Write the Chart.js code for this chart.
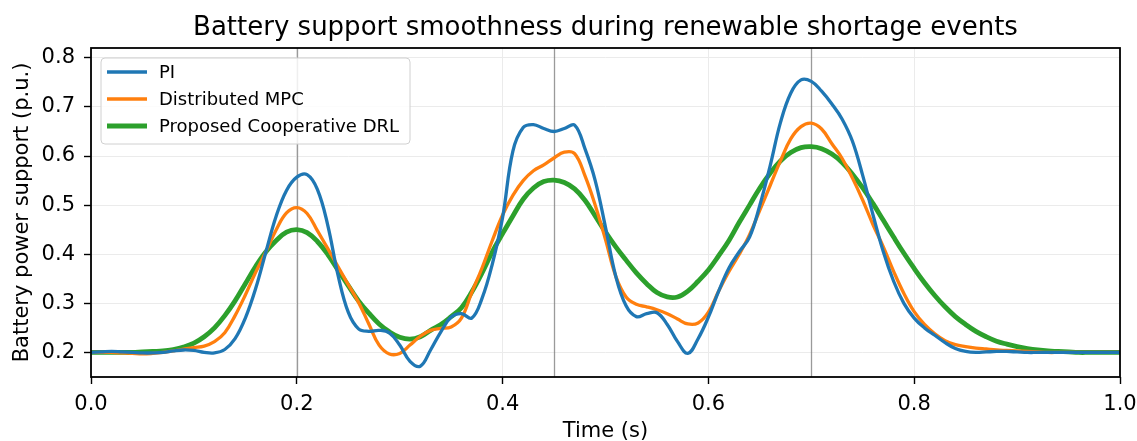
<!DOCTYPE html>
<html lang="en">
<head>
<meta charset="UTF-8">
<title>Battery support smoothness</title>
<script src="https://cdn.jsdelivr.net/npm/chart.js"></script>
<style>
  html, body { margin: 0; padding: 0; background: #fff; }
  #wrap { width: 1137px; height: 441px; position: relative; }
</style>
</head>
<body>
<div id="wrap"><canvas id="chart"></canvas></div>
<script>
// time axis (s)
const timeSec = [
  0.00, 0.01, 0.02, 0.03, 0.04, 0.05, 0.06, 0.07, 0.08, 0.09,
  0.10, 0.11, 0.12, 0.13, 0.14, 0.15, 0.16, 0.17, 0.18, 0.19,
  0.20, 0.21, 0.22, 0.23, 0.24, 0.25, 0.26, 0.27, 0.28, 0.29,
  0.30, 0.31, 0.32, 0.33, 0.34, 0.35, 0.36, 0.37, 0.38, 0.39,
  0.40, 0.41, 0.42, 0.43, 0.44, 0.45, 0.46, 0.47, 0.48, 0.49,
  0.50, 0.51, 0.52, 0.53, 0.54, 0.55, 0.56, 0.57, 0.58, 0.59,
  0.60, 0.61, 0.62, 0.63, 0.64, 0.65, 0.66, 0.67, 0.68, 0.69,
  0.70, 0.71, 0.72, 0.73, 0.74, 0.75, 0.76, 0.77, 0.78, 0.79,
  0.80, 0.81, 0.82, 0.83, 0.84, 0.85, 0.86, 0.87, 0.88, 0.89,
  0.90, 0.91, 0.92, 0.93, 0.94, 0.95, 0.96, 0.97, 0.98, 0.99,
  1.00
];

// battery power support (p.u.)
const piSupport = [
  0.200, 0.201, 0.202, 0.201, 0.200, 0.199, 0.199, 0.200, 0.203, 0.205,
  0.204, 0.200, 0.199, 0.206, 0.228, 0.270, 0.330, 0.405, 0.478, 0.530,
  0.557, 0.562, 0.532, 0.460, 0.358, 0.282, 0.248, 0.243, 0.245, 0.240,
  0.215, 0.182, 0.172, 0.205, 0.242, 0.272, 0.279, 0.270, 0.310, 0.380,
  0.475, 0.610, 0.658, 0.664, 0.656, 0.650, 0.656, 0.663, 0.615, 0.550,
  0.455, 0.355, 0.295, 0.273, 0.279, 0.281, 0.257, 0.222, 0.198, 0.228,
  0.272, 0.325, 0.372, 0.405, 0.435, 0.500, 0.580, 0.668, 0.728, 0.755,
  0.752, 0.732, 0.706, 0.675, 0.630, 0.560, 0.480, 0.405, 0.345, 0.300,
  0.270, 0.250, 0.235, 0.220, 0.208, 0.202, 0.200, 0.201, 0.202, 0.202,
  0.201, 0.200, 0.200, 0.200, 0.200, 0.200, 0.200, 0.200, 0.200, 0.200,
  0.200
];

const mpcSupport = [
  0.200, 0.200, 0.200, 0.199, 0.198, 0.197, 0.198, 0.200, 0.203, 0.207,
  0.210, 0.213, 0.222, 0.240, 0.275, 0.317, 0.363, 0.405, 0.450, 0.484,
  0.495, 0.483, 0.448, 0.412, 0.375, 0.338, 0.302, 0.258, 0.215, 0.197,
  0.198, 0.215, 0.233, 0.245, 0.249, 0.252, 0.270, 0.322, 0.372, 0.428,
  0.480, 0.520, 0.550, 0.570, 0.582, 0.596, 0.608, 0.605, 0.560, 0.500,
  0.430, 0.355, 0.313, 0.298, 0.293, 0.287, 0.279, 0.268, 0.258, 0.260,
  0.282, 0.325, 0.365, 0.400, 0.440, 0.490, 0.540, 0.590, 0.635, 0.660,
  0.667, 0.655, 0.625, 0.595, 0.555, 0.510, 0.460, 0.415, 0.365, 0.320,
  0.283, 0.257, 0.238, 0.224, 0.216, 0.212, 0.209, 0.207, 0.205, 0.204,
  0.203, 0.202, 0.201, 0.200, 0.200, 0.200, 0.200, 0.200, 0.200, 0.200,
  0.200
];

const drlSupport = [
  0.200, 0.200, 0.200, 0.200, 0.200, 0.201, 0.202, 0.203, 0.206, 0.211,
  0.219, 0.232, 0.250, 0.275, 0.305, 0.340, 0.375, 0.405, 0.428, 0.445,
  0.450, 0.444, 0.426, 0.400, 0.368, 0.336, 0.305, 0.280, 0.258, 0.242,
  0.231, 0.227, 0.232, 0.245, 0.257, 0.273, 0.291, 0.323, 0.362, 0.405,
  0.442, 0.478, 0.512, 0.535, 0.548, 0.551, 0.546, 0.533, 0.510, 0.478,
  0.445, 0.415, 0.388, 0.362, 0.340, 0.322, 0.313, 0.313, 0.325, 0.345,
  0.368, 0.397, 0.428, 0.465, 0.500, 0.535, 0.565, 0.590, 0.607, 0.617,
  0.619, 0.615, 0.604, 0.587, 0.563, 0.535, 0.503, 0.469, 0.435, 0.402,
  0.371, 0.342, 0.316, 0.293, 0.273, 0.257, 0.243, 0.232, 0.223, 0.217,
  0.212, 0.208, 0.205, 0.203, 0.202, 0.201, 0.200, 0.200, 0.200, 0.200,
  0.200
];

const seriesNames = ['PI', 'Distributed MPC', 'Proposed Cooperative DRL'];
const seriesColors = ['#1f77b4', '#ff7f0e', '#2ca02c'];
const seriesWidths = [3.3, 3.3, 4.8];

// renewable shortage events (s)
const eventTimes = [0.2, 0.45, 0.7];

const xTicks = [0.0, 0.2, 0.4, 0.6, 0.8, 1.0];
const yTicks = [0.2, 0.3, 0.4, 0.5, 0.6, 0.7, 0.8];

const chartTitle = 'Battery support smoothness during renewable shortage events';
const xTitle = 'Time (s)';
const yTitle = 'Battery power support (p.u.)';

const FONT = "'DejaVu Sans', sans-serif";

function toPoints(ys) {
  return timeSec.map((t, i) => ({ x: t, y: ys[i] }));
}

const allSeries = [piSupport, mpcSupport, drlSupport];
const datasets = allSeries.map((ys, i) => ({
  label: seriesNames[i],
  data: toPoints(ys),
  borderColor: seriesColors[i],
  backgroundColor: seriesColors[i],
  borderWidth: seriesWidths[i],
  pointRadius: 0,
  fill: false,
  tension: 0.4,
  borderCapStyle: 'round',
  borderJoinStyle: 'round'
}));

// title, axis titles, frame, event lines and the in-plot legend
const decorPlugin = {
  id: 'decor',
  beforeDatasetsDraw(chart) {
    const { ctx, chartArea, scales } = chart;
    ctx.save();
    ctx.strokeStyle = 'rgba(120,120,120,0.75)';
    ctx.lineWidth = 1.3;
    eventTimes.forEach(t => {
      const x = Math.round(scales.x.getPixelForValue(t)) + 0.5;
      ctx.beginPath();
      ctx.moveTo(x, chartArea.top);
      ctx.lineTo(x, chartArea.bottom);
      ctx.stroke();
    });
    ctx.restore();
  },
  afterDraw(chart) {
    const { ctx, chartArea } = chart;
    const a = chartArea;
    const cx = (a.left + a.right) / 2;
    const cy = (a.top + a.bottom) / 2;
    ctx.save();

    // frame
    ctx.strokeStyle = '#000';
    ctx.lineWidth = 1.8;
    ctx.strokeRect(a.left, a.top, a.right - a.left, a.bottom - a.top);

    // titles
    ctx.fillStyle = '#000';
    ctx.textAlign = 'center';
    ctx.textBaseline = 'alphabetic';
    ctx.font = '26px ' + FONT;
    ctx.fillText(chartTitle, cx, 35);

    ctx.font = '21px ' + FONT;
    ctx.fillText(xTitle, cx, 437);

    ctx.save();
    ctx.translate(28, cy);
    ctx.rotate(-Math.PI / 2);
    ctx.fillText(yTitle, 0, 0);
    ctx.restore();

    // legend
    const bx = a.left + 10, by = a.top + 10, bw = 309, bh = 86;
    ctx.beginPath();
    ctx.roundRect(bx, by, bw, bh, 4);
    ctx.fillStyle = 'rgba(255,255,255,0.85)';
    ctx.fill();
    ctx.strokeStyle = '#d0d0d0';
    ctx.lineWidth = 1;
    ctx.stroke();

    ctx.font = '18px ' + FONT;
    ctx.textAlign = 'left';
    ctx.textBaseline = 'middle';
    chart.data.datasets.forEach((ds, i) => {
      const y = by + 14 + i * 27;
      ctx.strokeStyle = ds.borderColor;
      ctx.lineWidth = ds.borderWidth;
      ctx.lineCap = 'butt';
      ctx.beginPath();
      ctx.moveTo(bx + 6, y);
      ctx.lineTo(bx + 46, y);
      ctx.stroke();
      ctx.fillStyle = '#000';
      ctx.fillText(ds.label, bx + 58, y + 1);
    });
    ctx.restore();
  }
};

new Chart(document.getElementById('chart'), {
  type: 'line',
  data: { datasets: datasets },
  options: {
    responsive: true,
    maintainAspectRatio: false,
    animation: false,
    devicePixelRatio: 1,
    layout: { padding: { top: 48, right: 17, left: 0, bottom: 0 } },
    plugins: {
      legend: { display: false },
      tooltip: { enabled: false },
      title: { display: false }
    },
    scales: {
      x: {
        type: 'linear',
        min: 0,
        max: 1,
        afterFit: s => { s.height = 64; s.paddingLeft = 0; s.paddingRight = 0; },
        afterBuildTicks: s => { s.ticks = xTicks.map(v => ({ value: v })); },
        grid: { color: '#ebebeb', lineWidth: 1, tickLength: 7, tickColor: '#000', tickWidth: 1.4 },
        border: { display: false },
        ticks: {
          color: '#000',
          font: { family: FONT, size: 21 },
          padding: 8,
          maxRotation: 0,
          callback: v => Number(v).toFixed(1)
        }
      },
      y: {
        type: 'linear',
        min: 0.15,
        max: 0.82,
        afterFit: s => { s.width = 91; s.paddingTop = 0; s.paddingBottom = 0; },
        afterBuildTicks: s => { s.ticks = yTicks.map(v => ({ value: v })); },
        grid: { color: '#ebebeb', lineWidth: 1, tickLength: 7, tickColor: '#000', tickWidth: 1.4 },
        border: { display: false },
        ticks: {
          color: '#000',
          font: { family: FONT, size: 21 },
          padding: 9,
          callback: v => Number(v).toFixed(1)
        }
      }
    }
  },
  plugins: [decorPlugin]
});
</script>
</body>
</html>
